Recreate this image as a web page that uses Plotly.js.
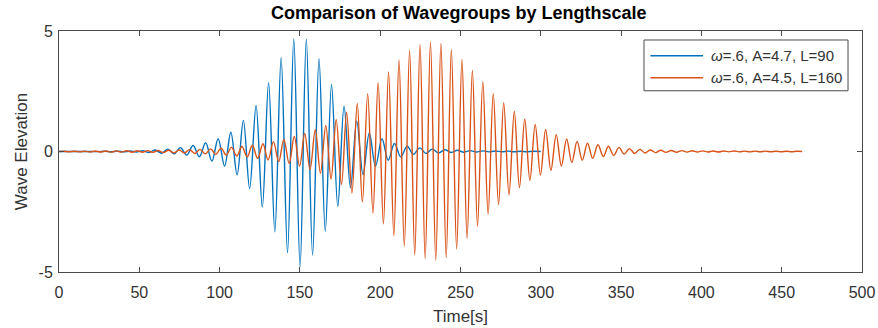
<!DOCTYPE html>
<html>
<head>
<meta charset="utf-8">
<script src="https://cdn.plot.ly/plotly-3.0.1.min.js"></script>
<style>html,body{margin:0;padding:0;background:#fff;}#chart{width:878px;height:328px;}</style>
</head>
<body>
<div id="chart"></div>
<script>
// Series names
const seriesNames = ["<i>ω</i>=.6, A=4.7, L=90", "<i>ω</i>=.6, A=4.5, L=160"];
const seriesColors = ['#0072BD', '#D95319'];
const xTicks = [0, 50, 100, 150, 200, 250, 300, 350, 400, 450, 500];
const yTicks = [-5, 0, 5];

// Blue wavegroup (L=90): times of crests/troughs [s] and elevations
const blueT = [0, 20.0, 24.7, 28.6, 32.5, 36.4, 40.3, 44.3, 48.2, 52.1, 56.0, 59.9, 63.9, 67.8, 71.7, 75.6, 79.5,
  83.5, 87.4, 91.3, 95.2, 99.1, 103.1, 107.0, 110.9, 114.8, 118.7, 122.7, 126.6, 130.5, 134.4, 138.3, 142.3,
  146.2, 150.1, 154.0, 157.9, 161.9, 165.8, 169.7, 173.6, 177.5, 181.5, 185.4, 189.3, 193.2, 197.1, 201.1,
  205.0, 208.9, 212.8, 216.8, 220.7, 224.6, 228.5, 232.4, 236.3, 240.3, 244.2, 248.1, 252.0, 256.0, 259.9,
  263.8, 267.7, 271.6, 275.5, 279.5, 283.4, 287.3, 291.2, 295.2, 300.0];
const blueV = [0, 0, -0.005, 0.01, -0.01, 0.015, -0.015, 0.02, -0.02, 0.03, -0.04, 0.06, -0.07, 0.10, -0.10, 0.16, -0.15,
  0.25, -0.22, 0.36, -0.40, 0.53, -0.61, 0.80, -0.97, 1.29, -1.54, 1.91, -2.31, 2.85, -3.33, 3.89, -4.20,
  4.67, -4.78, 4.66, -4.30, 3.85, -3.31, 2.78, -2.28, 1.88, -1.51, 1.26, -0.95, 0.77, -0.61, 0.53,
  -0.36, 0.33, -0.22, 0.22, -0.12, 0.15, -0.08, 0.10, -0.06, 0.07, -0.04, 0.05, -0.03, 0.035, -0.02,
  0.025, -0.015, 0.02, -0.01, 0.015, -0.01, 0.01, -0.01, 0.01, 0];

// Orange wavegroup (L=160): times of crests/troughs [s] and elevations
const redT = [0, 3.1, 6.4, 9.6, 12.9, 16.2, 19.4, 22.7, 25.9, 29.2, 32.4, 35.7, 38.9, 42.2, 45.5, 48.7, 52.0,
  55.2, 58.5, 61.8, 65.0, 68.3, 71.5, 74.8, 78.1, 81.3, 84.6, 87.8, 91.1, 94.4, 97.6, 100.9, 104.1, 107.4,
  110.7, 113.9, 117.2, 120.4, 123.7, 127.0, 130.2, 133.5, 136.8, 140.0, 143.3, 146.5, 149.8, 153.0, 156.3,
  159.6, 162.8, 166.1, 169.4, 172.6, 175.9, 179.1, 182.4, 185.7, 188.9, 192.2, 195.5, 198.7, 202.0, 205.2,
  208.5, 211.7, 215.0, 218.3, 221.5, 224.8, 228.0, 231.3, 234.6, 237.8, 241.1, 244.3, 247.6, 250.9, 254.1,
  257.4, 260.6, 263.9, 267.2, 270.4, 273.7, 276.9, 280.2, 283.5, 286.7, 290.0, 293.2, 296.5, 299.8, 303.0,
  306.3, 309.6, 312.8, 316.1, 319.3, 322.6, 325.8, 329.1, 332.3, 335.6, 338.9, 342.1, 345.4, 348.7, 351.9,
  355.2, 358.4, 361.7, 364.9, 368.2, 371.5, 374.7, 378.0, 381.3, 384.5, 387.8, 391.0, 394.3, 397.5, 400.8,
  404.1, 407.3, 410.6, 413.9, 417.1, 420.4, 423.6, 426.9, 430.1, 433.4, 436.7, 439.9, 443.2, 446.4, 449.7,
  453.0, 456.2, 459.5, 462.7];
const redV = [0, 0.01, -0.01, 0.01, -0.015, 0.015, -0.02, 0.02, -0.02, 0.02, -0.025, 0.025, -0.025, 0.03, -0.03, 0.03, -0.03,
  0.035, -0.035, 0.04, -0.045, 0.05, -0.055, 0.06, -0.065, 0.075, -0.08, 0.09, -0.10, 0.11, -0.12, 0.14, -0.15, 0.17,
  -0.19, 0.21, -0.23, 0.26, -0.29, 0.32, -0.35, 0.41, -0.42, 0.50, -0.50, 0.62, -0.61, 0.75, -0.75,
  0.90, -0.90, 1.08, -1.14, 1.33, -1.37, 1.63, -1.72, 1.99, -2.10, 2.40, -2.55, 2.85, -3.00, 3.30,
  -3.49, 3.80, -3.93, 4.20, -4.30, 4.44, -4.45, 4.55, -4.50, 4.48, -4.40, 4.23, -4.05, 3.82, -3.60,
  3.36, -3.10, 2.90, -2.60, 2.41, -2.20, 2.02, -1.80, 1.67, -1.50, 1.35, -1.20, 1.12, -0.98, 0.91,
  -0.78, 0.70, -0.60, 0.52, -0.46, 0.42, -0.36, 0.34, -0.28, 0.28, -0.21, 0.22, -0.16, 0.17, -0.11,
  0.12, -0.08, 0.09, -0.06, 0.065, -0.045, 0.05, -0.035, 0.04, -0.03, 0.035, -0.025, 0.03, -0.02, 0.025,
  -0.02, 0.02, -0.02, 0.02, -0.015, 0.02, -0.015, 0.015, -0.015, 0.015, -0.01, 0.015, -0.01, 0.01, -0.01,
  0.01, -0.01, 0.01, 0];

const FONT = 'Liberation Sans, Arial, Helvetica, sans-serif';
const textColor = '#333333';
const lineColor = '#4a4a4a';

const traces = [
  {x: blueT, y: blueV, name: seriesNames[0], type: 'scatter', mode: 'lines', showlegend: false,
   line: {color: seriesColors[0], width: 1.4, shape: 'spline', smoothing: 1}},
  {x: redT, y: redV, name: seriesNames[1], type: 'scatter', mode: 'lines', showlegend: false,
   line: {color: seriesColors[1], width: 1.4, shape: 'spline', smoothing: 1}}
];

const axisCommon = {
  showgrid: false, zeroline: false, showline: true, mirror: 'ticks',
  linecolor: lineColor, linewidth: 1, ticks: 'inside', ticklen: 5, tickwidth: 1,
  tickcolor: lineColor, tickfont: {family: FONT, size: 16, color: textColor}
};

// legend drawn as a boxed key in the upper right of the axes (MATLAB style, long line samples)
const legBox = {x0: 0.7285, x1: 0.9826, y0: 0.752, y1: 0.9627};
const legRowsY = [0.8975, 0.8062];
const shapes = [
  {type: 'rect', xref: 'paper', yref: 'paper', x0: legBox.x0, x1: legBox.x1, y0: legBox.y0, y1: legBox.y1,
   line: {color: lineColor, width: 1}, fillcolor: '#ffffff', layer: 'above'}
];
const annotations = [];
seriesNames.forEach((nm, i) => {
  shapes.push({type: 'line', xref: 'paper', yref: 'paper', x0: 0.7365, x1: 0.8020, y0: legRowsY[i], y1: legRowsY[i],
               line: {color: seriesColors[i], width: 1.4}, layer: 'above'});
  annotations.push({xref: 'paper', yref: 'paper', x: 0.8095, y: legRowsY[i], xanchor: 'left', yanchor: 'middle',
                    text: nm, showarrow: false, font: {family: FONT, size: 15, color: textColor}});
});

const layout = {
  width: 878, height: 328,
  margin: {l: 59, r: 16, t: 31, b: 56},
  paper_bgcolor: '#ffffff', plot_bgcolor: '#ffffff',
  font: {family: FONT, size: 16, color: textColor},
  title: {text: '<b>Comparison of Wavegroups by Lengthscale</b>', x: 0.5225, xanchor: 'center', y: 0.96, yanchor: 'middle',
          font: {family: FONT, size: 18, color: '#000'}},
  xaxis: Object.assign({}, axisCommon, {range: [0, 500], tickvals: xTicks, ticktext: xTicks.map(String), ticklabelstandoff: 6,
          title: {text: 'Time[s]', font: {family: FONT, size: 17, color: textColor}, standoff: 9}}),
  yaxis: Object.assign({}, axisCommon, {range: [-5, 5], tickvals: yTicks, ticktext: yTicks.map(String), ticklabelstandoff: 2,
          title: {text: 'Wave Elevation', font: {family: FONT, size: 17, color: textColor}, standoff: 6}}),
  showlegend: false,
  shapes: shapes,
  annotations: annotations
};

Plotly.newPlot('chart', traces, layout, {displayModeBar: false, staticPlot: true});
</script>
</body>
</html>
